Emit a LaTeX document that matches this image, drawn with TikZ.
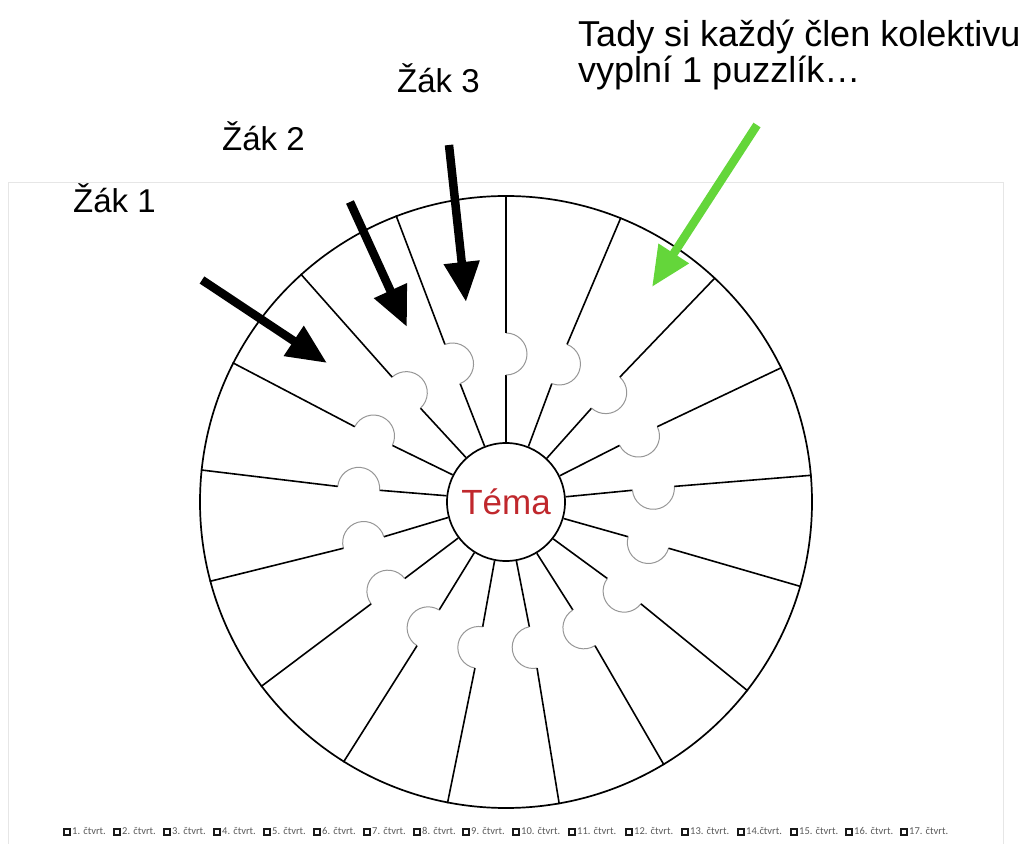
\documentclass[tikz,border=0pt]{standalone}
\usepackage{fontspec}
\setmainfont{Liberation Sans}
\newfontfamily\legfont{Carlito}
\usetikzlibrary{arrows.meta}

\definecolor{temared}{RGB}{192,40,45}
\definecolor{tipgreen}{RGB}{100,214,58}
\definecolor{framegray}{RGB}{230,230,230}
\definecolor{tabgray}{RGB}{150,150,150}

% little tick box in front of every quarter
\newcommand\qbox{{\color{black!90}\setlength\fboxrule{2pt}\setlength\fboxsep{0pt}\fbox{\rule{0pt}{4pt}\hspace{4pt}}}\hspace{1pt}}

\tikzset{
  spoke/.style={line width=1.6pt,black},
  tab/.style={line width=1pt,tabgray},
  pointer/.style={line width=8.5pt,-{Triangle[length=40pt,width=34pt]}},
  zak/.style={font=\fontsize{33}{37}\selectfont,anchor=base west,inner sep=0pt},
  legend/.style={font=\legfont\fontsize{10.5}{12}\selectfont,text=black!65,anchor=base west,inner sep=0pt},
}

\begin{document}
\begin{tikzpicture}[x=1pt,y=1pt]
\useasboundingbox (0,0) rectangle (1022,843);
% page frame, open at the bottom
\draw[framegray,line width=1pt] (8,-2) -- (8,660) -- (1003,660) -- (1003,-2);

% the wheel
\coordinate (O) at (506,341);
\node[circle,draw,line width=1.7pt,minimum size=612pt,inner sep=0pt] (wheel) at (O) {};
\node[circle,draw,line width=1.7pt,minimum size=118pt,inner sep=0pt,text=temared,font=\fontsize{35}{35}\selectfont] (tema) at (O) {Téma};

% 17 pieces, every cut with its tab
\foreach \k in {0,...,16}{
  \pgfmathsetmacro\a{90+\k*360/17}
  \pgfmathsetmacro\b{\a+180}
  \pgfmathsetmacro\c{\a+360}
  \draw[spoke] (tema.\a) -- ([shift={(\a:127)}]O);
  \draw[tab] ([shift={(\a:127)}]O) arc[start angle=\b,end angle=\c,radius=21];
  \draw[spoke] ([shift={(\a:169)}]O) -- (wheel.\a);
}

% labels and pointers
\node[zak] (zak1) at (73,630) {Žák 1};
\node[zak] (zak2) at (222,692) {Žák 2};
\node[zak] (zak3) at (397,750) {Žák 3};
\node[font=\fontsize{36}{36.5}\selectfont,anchor=base west,inner sep=0pt,align=left] (note) at (578,760) {Tady si každý člen kolektivu\\vyplní 1 puzzlík…};

\coordinate (t1) at (202,563);
\coordinate (h1) at (327,480);
\coordinate (t2) at (350,641);
\coordinate (h2) at (407,516);
\coordinate (t3) at (449,698);
\coordinate (h3) at (466,541);
\coordinate (tg) at (757,718);
\coordinate (hg) at (652,556);
\draw[pointer] (t1) -- (h1);
\draw[pointer] (t2) -- (h2);
\draw[pointer] (t3) -- (h3);
\draw[pointer,tipgreen] (tg) -- (hg);

% quarters along the bottom
\foreach \x/\t [count=\i] in {63/1. čtvrt.,113/2. čtvrt.,163/3. čtvrt.,213/4. čtvrt.,263/5. čtvrt.,313/6. čtvrt.,363/7. čtvrt.,413/8. čtvrt.,462/9. čtvrt.,512/10. čtvrt.,568/11. čtvrt.,625/12. čtvrt.,681/13. čtvrt.,737/14.čtvrt.,790/15. čtvrt.,845/16. čtvrt.,900/17. čtvrt.}
  \node[legend] (q\i) at (\x,9) {\qbox\t};
\end{tikzpicture}
\end{document}
